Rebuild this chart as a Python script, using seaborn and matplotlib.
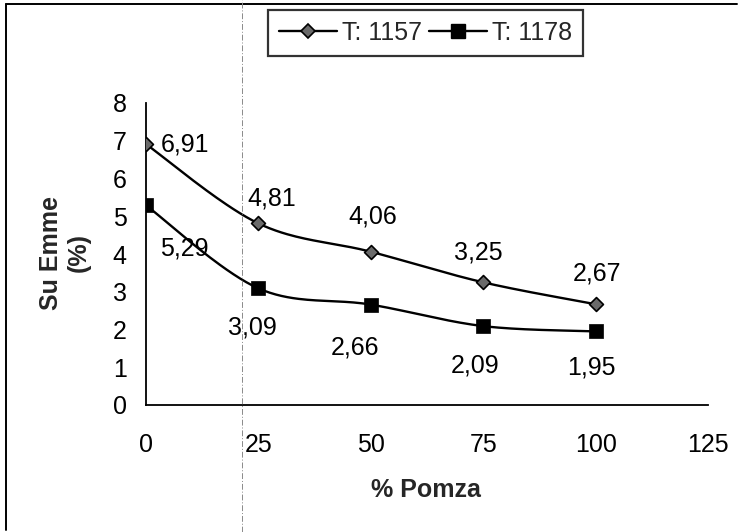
import numpy as np
import matplotlib
matplotlib.use("Agg")
import matplotlib.pyplot as plt
from matplotlib.lines import Line2D
import seaborn as sns

# ---- data ----
pomza = [0, 25, 50, 75, 100]
t1157 = [6.91, 4.81, 4.06, 3.25, 2.67]
t1178 = [5.29, 3.09, 2.66, 2.09, 1.95]
series_names = ["T: 1157", "T: 1178"]
x_ticks = [0, 25, 50, 75, 100, 125]
y_ticks = [0, 1, 2, 3, 4, 5, 6, 7, 8]

sns.set_theme(style="white")
plt.rcParams["font.family"] = ["Liberation Sans", "DejaVu Sans"]

FS = 18
W, H = 745, 532
fig = plt.figure(figsize=(W / 100, H / 100), dpi=100)
ax = fig.add_axes([146 / W, (H - 405) / H, 562 / W, 302 / H])


def smooth(xs, ys, n=40):
    pts = np.column_stack([xs, ys]).astype(float)
    P = np.vstack([pts[0], pts, pts[-1]])
    out = []
    t = np.linspace(0, 1, n)[:, None]
    for i in range(len(pts) - 1):
        p0, p1, p2, p3 = P[i], P[i + 1], P[i + 2], P[i + 3]
        c1 = p1 + (p2 - p0) / 6
        c2 = p2 - (p3 - p1) / 6
        seg = ((1 - t) ** 3) * p1 + 3 * ((1 - t) ** 2) * t * c1 + 3 * (1 - t) * t ** 2 * c2 + t ** 3 * p2
        out.append(seg if i == 0 else seg[1:])
    out = np.vstack(out)
    return out[:, 0], out[:, 1]


for ys in (t1157, t1178):
    sx, sy = smooth(pomza, ys)
    sns.lineplot(x=sx, y=sy, sort=False, estimator=None, color="black",
                 linewidth=1.7, ax=ax, legend=False)

sns.scatterplot(x=pomza, y=t1157, marker="D", s=50, color="#6a6a6a",
                edgecolor="black", linewidth=1.2, zorder=4, ax=ax, legend=False)
sns.scatterplot(x=pomza, y=t1178, marker="s", s=100, color="black",
                edgecolor="black", linewidth=0.5, zorder=4, ax=ax, legend=False)

# value labels
off_1157 = [(39, 0), (13, 25), (2, 35), (-5, 30), (1, 31)]
off_1178 = [(38, -43), (-6, -39), (-16, -43), (-8, -39), (-4, -36)]
for ys, offs in ((t1157, off_1157), (t1178, off_1178)):
    for xv, yv, (dx, dy) in zip(pomza, ys, offs):
        ax.annotate(f"{yv:.2f}".replace(".", ","), (xv, yv), xytext=(dx, dy),
                    textcoords="offset pixels", ha="center", va="center",
                    fontsize=FS, color="black", zorder=5)

ax.set_xlim(0, 125)
ax.set_ylim(0, 8)
ax.set_xticks(x_ticks)
ax.set_yticks(y_ticks)
ax.set_xticklabels([str(v) for v in x_ticks])
ax.set_yticklabels([str(v) for v in y_ticks])
ax.tick_params(axis="both", direction="out", length=6, width=1.2,
               colors="black", labelsize=FS)
ax.tick_params(axis="y", pad=8)
ax.tick_params(axis="x", pad=14)
for s in ("top", "right"):
    ax.spines[s].set_visible(False)
for s in ("left", "bottom"):
    ax.spines[s].set_color("black")
    ax.spines[s].set_linewidth(1.3)
ax.grid(False)

ax.set_xlabel("% Pomza", fontsize=FS, fontweight="bold")
ax.xaxis.set_label_coords((426 - 146) / 562, (405 - 490) / 302)
ax.xaxis.label.set_verticalalignment("center")
ax.set_ylabel("Su Emme\n(%)", fontsize=FS, fontweight="bold", linespacing=1.2)
ax.yaxis.set_label_coords((65 - 146) / 562, (405 - 253) / 302)
ax.yaxis.label.set_verticalalignment("center")

# legend
handles = [
    Line2D([], [], color="black", lw=1.7, marker="D", ms=7.5, mfc="#6a6a6a", mec="black", mew=1.2),
    Line2D([], [], color="black", lw=1.7, marker="s", ms=10, mfc="black", mec="black"),
]
leg = fig.legend(handles, series_names, loc="center",
                 bbox_to_anchor=(425.5 / W, 1 - 33 / H), ncol=2, frameon=True,
                 fancybox=False, edgecolor="black", fontsize=FS,
                 handlelength=2.3, columnspacing=0.3, handletextpad=0.2,
                 borderpad=0.45, borderaxespad=0)
leg.get_frame().set_linewidth(1.6)

# page border (left and top) and scan fold line
fig.add_artist(Line2D([6 / W, 6 / W], [1 - 4 / H, 1 - 530 / H], transform=fig.transFigure,
                      color="black", lw=1.4))
fig.add_artist(Line2D([6 / W, 737 / W], [1 - 4 / H, 1 - 4 / H], transform=fig.transFigure,
                      color="black", lw=1.4))
fig.add_artist(Line2D([242 / W, 242 / W], [0, 1], transform=fig.transFigure,
                      color="#8a8a8a", lw=0.7, linestyle=(0, (6, 2, 1, 2))))

fig.savefig("out.png", dpi=100, facecolor="white")
